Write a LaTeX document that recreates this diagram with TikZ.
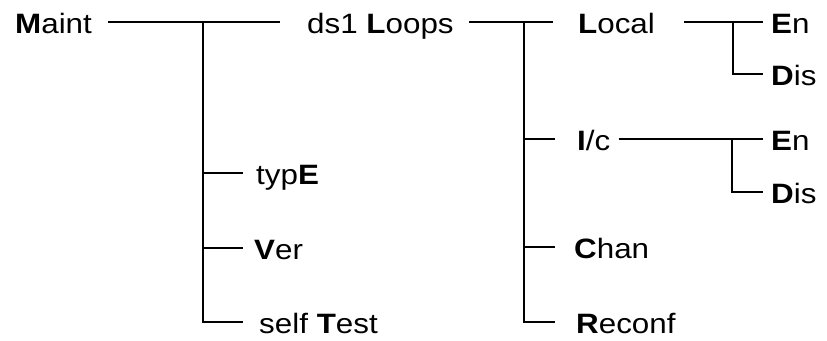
\documentclass[tikz,border=0pt]{standalone}
\usepackage{fontspec}
\setmainfont[FakeStretch=1.12]{Liberation Sans}
\usetikzlibrary{calc}
\begin{document}
\begin{tikzpicture}[x=1pt,y=-1pt,
  item/.style={anchor=base west,inner sep=0pt,font=\fontsize{28}{34}\selectfont},
  wire/.style={line width=1.6pt}]
\useasboundingbox (0,0) rectangle (827,340);
% menu entries
\node[item] (maint) at (15,33) {\textbf{M}aint};
\node[item] (loops) at (307,33) {ds1 \textbf{L}oops};
\node[item] (type) at (256,184) {typ\textbf{E}};
\node[item] (ver) at (254,259) {\textbf{V}er};
\node[item] (self) at (259,333) {self \textbf{T}est};
\node[item] (local) at (578,33) {\textbf{L}ocal};
\node[item] (ic) at (577,150) {\textbf{I}/c};
\node[item] (chan) at (574,258) {\textbf{C}han};
\node[item] (reconf) at (576,333) {\textbf{R}econf};
\node[item] (en1) at (771,33) {\textbf{E}n};
\node[item] (dis1) at (771,85) {\textbf{D}is};
\node[item] (en2) at (771,150) {\textbf{E}n};
\node[item] (dis2) at (771,203) {\textbf{D}is};
% junction points of the tree
\coordinate (ja) at (203,22);
\coordinate (jb) at (524,22);
\coordinate (jc) at (733,22);
\coordinate (jd) at (732,139);
% Maint branch
\draw[wire] ($(maint.east|-ja)+(16,0)$) -- ($(loops.west|-ja)+(-27,0)$);
\draw[wire] (ja) -- (ja|-0,322) -- ($(self.west|-0,322)+(-16,0)$);
\draw[wire] (ja|-0,173) -- ($(type.west|-0,173)+(-13,0)$);
\draw[wire] (ja|-0,248) -- ($(ver.west|-0,248)+(-11,0)$);
% ds1 Loops branch
\draw[wire] ($(loops.east|-jb)+(15,0)$) -- ($(local.west|-jb)+(-25,0)$);
\draw[wire] (jb) -- (jb|-0,322) -- ($(reconf.west|-0,322)+(-21,0)$);
\draw[wire] (jb|-0,139) -- ($(ic.west|-0,139)+(-22,0)$);
\draw[wire] (jb|-0,247) -- ($(chan.west|-0,247)+(-19,0)$);
% Local branch
\draw[wire] ($(local.east|-jc)+(29,0)$) -- ($(en1.west|-jc)+(-8,0)$);
\draw[wire] (jc) -- (jc|-0,74) -- ($(dis1.west|-0,74)+(-8,0)$);
% I/c branch
\draw[wire] ($(ic.east|-jd)+(8,0)$) -- ($(en2.west|-jd)+(-8,0)$);
\draw[wire] (jd) -- (jd|-0,192) -- ($(dis2.west|-0,192)+(-8,0)$);
\end{tikzpicture}
\end{document}
